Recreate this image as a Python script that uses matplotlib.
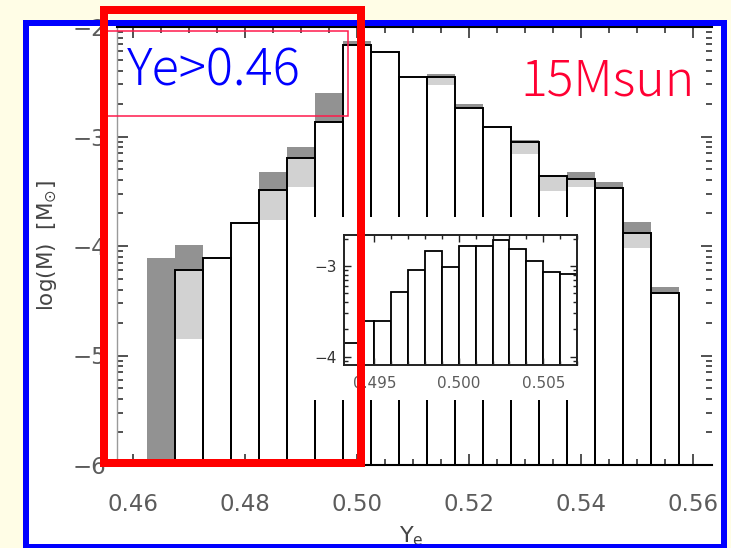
import numpy as np
import matplotlib
matplotlib.use("Agg")
import matplotlib.pyplot as plt
from matplotlib.patches import Rectangle
from matplotlib.ticker import MultipleLocator, FixedLocator, FixedFormatter

nan = np.nan

# Ye histogram, bin centres (bin width 0.005)
ye_bins = [0.465, 0.470, 0.475, 0.480, 0.485, 0.490, 0.495, 0.500, 0.505, 0.510,
           0.515, 0.520, 0.525, 0.530, 0.535, 0.540, 0.545, 0.550, 0.555]
# log10 of ejected mass per bin [Msun]
log_m_outline = [nan, -4.22, -4.11, -3.79, -3.49, -3.20, -2.87, -2.16, -2.23, -2.46,
                 -2.46, -2.74, -2.91, -3.05, -3.36, -3.39, -3.47, -3.88, -4.43]
log_m_dark = [-4.11, -3.99, nan, -3.78, -3.32, -3.10, -2.60, -2.13, nan, nan,
              -2.43, -2.70, nan, -3.03, nan, -3.32, -3.42, -3.78, -4.37]
log_m_light = [nan, -4.22, nan, nan, -3.49, -3.20, nan, nan, nan, nan,
               -2.46, nan, nan, -3.05, -3.36, -3.39, nan, -3.88, nan]
log_m_white = [nan, -4.85, -4.11, -3.79, -3.76, -3.46, -2.87, -2.16, -2.23, -2.46,
               -2.53, -2.74, -2.91, -3.16, -3.50, -3.46, -3.47, -4.02, -4.43]

# close-up around Ye = 0.5 (bin width 0.001)
zoom_bins = [0.4935, 0.4945, 0.4955, 0.4965, 0.4975, 0.4985, 0.4995,
             0.5005, 0.5015, 0.5025, 0.5035, 0.5045, 0.5055, 0.5065]
zoom_log_m = [-3.85, -3.61, -3.61, -3.29, -3.04, -2.84, -3.01,
              -2.78, -2.78, -2.72, -2.81, -2.95, -3.07, -3.09]

main_xticks = [0.46, 0.48, 0.50, 0.52, 0.54, 0.56]
main_xticklabels = ["0.46", "0.48", "0.50", "0.52", "0.54", "0.56"]
main_yticks = [-6, -5, -4, -3, -2]
main_yticklabels = ["\u22126", "\u22125", "\u22124", "\u22123", "\u22122"]
zoom_xticks = [0.495, 0.500, 0.505]
zoom_xticklabels = ["0.495", "0.500", "0.505"]
zoom_yticks = [-4, -3]
zoom_yticklabels = ["\u22124", "\u22123"]

W, H = 731, 548
fig = plt.figure(figsize=(W / 100, H / 100), dpi=100, facecolor="#FFFDE6")


def fx(px):
    return px / W


def fy(py):
    return 1 - py / H


def bars(ax, x, top, width, base, **kw):
    x = np.asarray(x, float)
    top = np.asarray(top, float)
    ok = np.isfinite(top)
    ax.bar(x[ok], top[ok] - base, width=width, bottom=base, align="center", **kw)


def log_minor(lo, hi):
    return [n + np.log10(k) for n in range(lo, hi) for k in range(2, 10)]


# white slide panel inside the blue frame
fig.add_artist(Rectangle((fx(25.5), 0), fx(723.5) - fx(25.5), fy(23) - 0,
                         transform=fig.transFigure, facecolor="white",
                         edgecolor="none", zorder=-5))

# ---- main histogram ----
ax = fig.add_axes([fx(117), fy(465), fx(712) - fx(117), fy(27) - fy(465)])
ax.set_facecolor("white")
base = -6
bars(ax, ye_bins, log_m_dark, 0.005, base, color="#929292", linewidth=0, zorder=1)
bars(ax, ye_bins, log_m_light, 0.005, base, color="#d2d2d2", linewidth=0, zorder=1.1)
bars(ax, ye_bins, log_m_white, 0.005, base, color="white", linewidth=0, zorder=1.2)
bars(ax, ye_bins, log_m_outline, 0.005, base, fill=False, edgecolor="black",
     linewidth=1.4, zorder=1.3)

ax.set_xlim(0.4571, 0.5634)
ax.set_ylim(-6, -2)
ax.xaxis.set_major_locator(FixedLocator(main_xticks))
ax.xaxis.set_major_formatter(FixedFormatter(main_xticklabels))
ax.xaxis.set_minor_locator(MultipleLocator(0.005))
ax.yaxis.set_major_locator(FixedLocator(main_yticks))
ax.yaxis.set_major_formatter(FixedFormatter(main_yticklabels))
ax.yaxis.set_minor_locator(FixedLocator(log_minor(-6, -2)))
ax.tick_params(which="both", direction="in", top=True, right=True,
               color="#222222", width=1.1)
ax.tick_params(which="major", length=8)
ax.tick_params(which="minor", length=4.5)
ax.tick_params(axis="x", which="major", pad=20, labelsize=16.5, labelcolor="#5c5c5c")
ax.tick_params(axis="y", which="major", pad=8, labelsize=16.5, labelcolor="#5c5c5c")
for side in ("bottom", "top"):
    ax.spines[side].set_color("black")
    ax.spines[side].set_linewidth(1.5)
ax.spines["left"].set_color("#9a9a9a")
ax.spines["left"].set_linewidth(1.0)
ax.spines["right"].set_visible(False)

ax.set_xlabel(r"Y$_{\rm e}$", fontsize=16, color="#444444")
ax.xaxis.set_label_coords(0.495, -0.135)
ax.set_ylabel(r"log(M)  [M$_{\odot}$]", fontsize=15.5, color="#444444")
ax.yaxis.label.set_verticalalignment("center")
ax.yaxis.set_label_coords(-0.118, 0.50)

# white backing behind the close-up panel
ax.add_patch(Rectangle((fx(310), fy(400)), fx(585) - fx(310), fy(217) - fy(400),
                       transform=fig.transFigure, facecolor="white",
                       edgecolor="none", zorder=5, clip_on=False))

# ---- close-up panel ----
axi = fig.add_axes([fx(344), fy(365), fx(577) - fx(344), fy(235) - fy(365)])
axi.set_facecolor("white")
bars(axi, zoom_bins, zoom_log_m, 0.001, -5, color="white", edgecolor="black",
     linewidth=1.3)
axi.set_xlim(0.4932, 0.5070)
axi.set_ylim(-4.09, -2.66)
axi.xaxis.set_major_locator(FixedLocator(zoom_xticks))
axi.xaxis.set_major_formatter(FixedFormatter(zoom_xticklabels))
axi.xaxis.set_minor_locator(MultipleLocator(0.001))
axi.yaxis.set_major_locator(FixedLocator(zoom_yticks))
axi.yaxis.set_major_formatter(FixedFormatter(zoom_yticklabels))
axi.yaxis.set_minor_locator(FixedLocator(log_minor(-5, -2)))
axi.tick_params(which="both", direction="in", top=True, right=True,
                color="#222222", width=1.0)
axi.tick_params(which="major", length=5)
axi.tick_params(which="minor", length=3)
axi.tick_params(axis="x", pad=8, labelsize=11, labelcolor="#5c5c5c")
axi.tick_params(axis="y", pad=5, labelsize=11, labelcolor="#333333")
for sp in axi.spines.values():
    sp.set_color("#222222")
    sp.set_linewidth(1.4)

# ---- annotations ----
fig.add_artist(Rectangle((fx(107), fy(116)), fx(348) - fx(107), fy(31) - fy(116),
                         transform=fig.transFigure, fill=False,
                         edgecolor="#FF1A4B", linewidth=1.1, zorder=11))
fig.text(fx(127), fy(85), "Ye>0.46", color="#0000FF", fontsize=36.5,
         family=["Noto Sans CJK JP", "DejaVu Sans"], fontweight="light",
         ha="left", va="baseline", zorder=12)
fig.text(fx(520), fy(96), "15Msun", color="#FF0033", fontsize=36,
         family=["Noto Sans CJK JP", "DejaVu Sans"], fontweight="light",
         ha="left", va="baseline", zorder=12)

# blue slide frame and thick red highlight box
fig.add_artist(Rectangle((fx(25.5), fy(547)), fx(723.5) - fx(25.5), fy(23) - fy(547),
                         transform=fig.transFigure, fill=False, edgecolor="#0000FF",
                         linewidth=6 * 0.72, joinstyle="miter", zorder=10))
fig.add_artist(Rectangle((fx(104), fy(463)), fx(361) - fx(104), fy(10) - fy(463),
                         transform=fig.transFigure, fill=False, edgecolor="#FF0000",
                         linewidth=8 * 0.72, joinstyle="miter", zorder=11))

fig.savefig("out.png", dpi=100, facecolor=fig.get_facecolor())
